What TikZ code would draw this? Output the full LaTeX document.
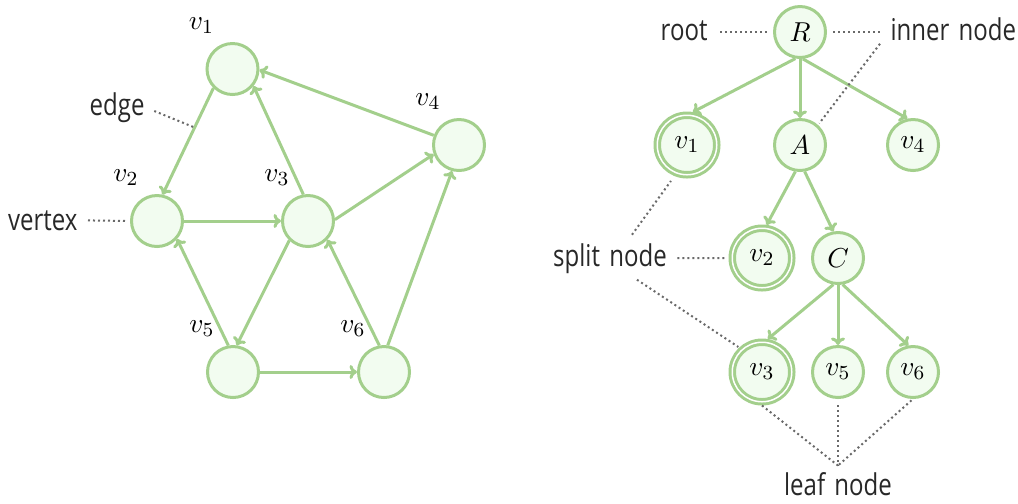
\documentclass[tikz,border=0pt]{standalone}
\usepackage{fontspec}
\newfontfamily\labfont[FakeStretch=0.8,WordSpace=1.5]{Open Sans}
\usetikzlibrary{arrows.meta,calc}
\definecolor{nodeline}{RGB}{163,207,140}
\definecolor{nodefill}{RGB}{242,252,240}
\definecolor{dotgray}{RGB}{105,105,105}
\definecolor{txt}{RGB}{40,40,40}
\tikzset{
  vtx/.style={circle, draw=nodeline, fill=nodefill, line width=1.2pt,
    minimum size=20.4pt, inner sep=0pt, text=black,
    font=\fontsize{11}{13}\selectfont},
  dblvtx/.style={vtx, double=white, double distance=0.6pt,
    minimum size=23.8pt, outer sep=1.5pt},
  arr/.style={draw=nodeline, line width=1.2pt, -{To[length=3pt,width=5.6pt]}},
  lbl/.style={inner sep=0pt, anchor=base, font=\fontsize{11}{13}\selectfont},
  note/.style={inner sep=0pt, text=txt, font=\labfont\fontsize{12}{14}\selectfont},
  dots/.style={draw=dotgray, line width=0.8pt, dash pattern=on 0.8pt off 1.2pt}
}
\begin{document}
\begin{tikzpicture}[x=0.4pt, y=-0.4pt]
\useasboundingbox (0,0) rectangle (1018,503);

% ---- directed graph ----
\node[vtx] (g1) at (232.5,69) {};
\node[vtx] (g2) at (157,221) {};
\node[vtx] (g3) at (308,221) {};
\node[vtx] (g4) at (459,145) {};
\node[vtx] (g5) at (233,372) {};
\node[vtx] (g6) at (384,372) {};

\foreach \n/\t in {g1/v_1, g2/v_2, g3/v_3, g4/v_4, g5/v_5, g6/v_6}
  \node[lbl] (l\n) at ($(\n)+(-31,-40)$) {$\t$};

\draw[arr] (g1.225) -- (g2.78);
\draw[arr] (g4.159) -- (g1.358);
\draw[arr] (g3.100) -- (g1.321);
\draw[arr] (g2.east) -- (g3.west);
\draw[arr] (g3.3) -- (g4.200);
\draw[arr] (g6.82) -- (g4.255);
\draw[arr] (g5.100) -- (g2.318);
\draw[arr] (g3.226) -- (g5.82);
\draw[arr] (g6.100) -- (g3.316);
\draw[arr] (g5.east) -- (g6.west);

\path (g1.225) -- (g2.78) coordinate[pos=0.37] (emid);

\node[note, anchor=base east] (vertex) at (78,230) {vertex};
\node[note, anchor=base east] (edge) at (145,115) {edge};
\draw[dots, shorten <=4pt, shorten >=1pt] (vertex.east) -- (g2.west);
\draw[dots, shorten <=4pt] (edge.east) -- (emid);

% ---- tree ----
\node[vtx] (R) at (800,32) {$R$};
\node[dblvtx] (t1) at (687,145) {$v_1$};
\node[vtx] (A) at (800,145) {$A$};
\node[vtx] (t4) at (913,145) {$v_4$};
\node[dblvtx] (t2) at (762,258) {$v_2$};
\node[vtx] (C) at (838,258) {$C$};
\node[dblvtx] (t3) at (762,372) {$v_3$};
\node[vtx] (t5) at (838,372) {$v_5$};
\node[vtx] (t6) at (913,372) {$v_6$};

\draw[arr] (R.260) -- (t1.80);
\draw[arr] (R.south) -- (A.north);
\draw[arr] (R.276) -- (t4.102);
\draw[arr] (A.260) -- (t2.82);
\draw[arr] (A.280) -- (C.100);
\draw[arr] (C.260) -- (t3.80);
\draw[arr] (C.south) -- (t5.north);
\draw[arr] (C.280) -- (t6.100);

\node[note, anchor=base east] (root) at (708,40) {root};
\node[note, anchor=base west] (inner) at (890,40) {inner node};
\node[note, anchor=base] (split) at (610,266) {split node};
\node[note, anchor=base] (leaf) at (838,495) {leaf node};
\coordinate (lf) at ($(leaf.north)+(0,-6)$);

\draw[dots, shorten <=4.8pt, shorten >=2.4pt] (root.east |- R) -- (R.west);
\draw[dots, shorten <=2.4pt, shorten >=4pt] (R.east) -- (inner.west |- R);
\draw[dots, shorten >=0.8pt] ($(inner.south west)+(-10,3)$) -- (A.48);

\draw[dots, shorten >=2.4pt] ($(split.north)+(22,-8)$) -- (t1.248);
\draw[dots, shorten <=4pt, shorten >=1.4pt] (split.east) -- (t2.west);
\draw[dots, shorten >=0.4pt] ($(split.south)+(27,6)$) -- (t3.133);

\draw[dots] (t3.south) -- (lf);
\draw[dots, shorten <=2.4pt] (t5.south) -- (lf);
\draw[dots, shorten <=0.8pt] (t6.south) -- (lf);
\end{tikzpicture}
\end{document}
